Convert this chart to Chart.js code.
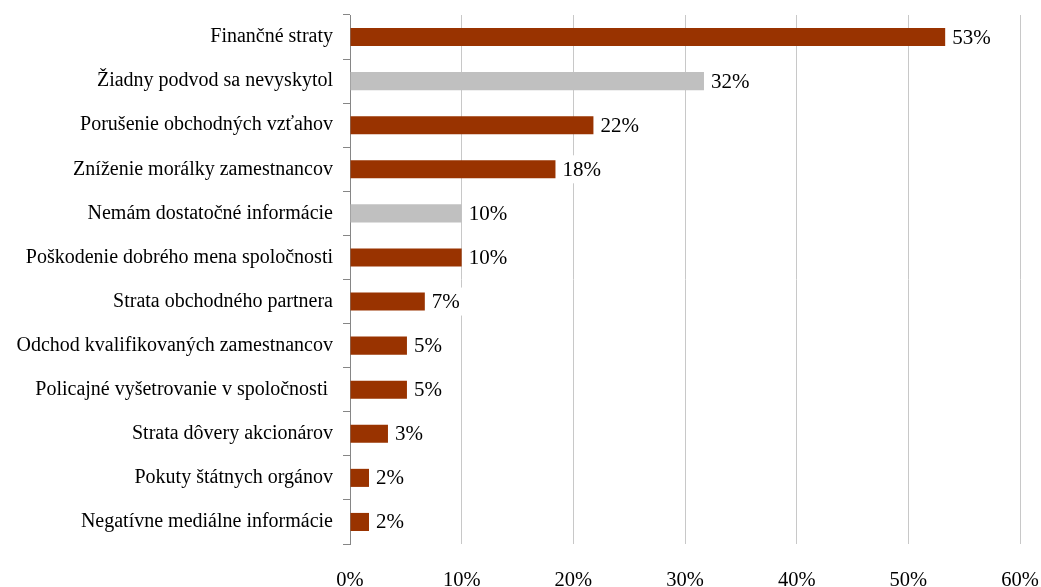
<!DOCTYPE html>
<html>
<head>
<meta charset="utf-8">
<script src="https://cdn.jsdelivr.net/npm/chart.js@4"></script>
<style>
  html, body { margin: 0; padding: 0; background: #fff; }
  #wrap { width: 1041px; height: 587px; }
</style>
</head>
<body>
<div id="wrap"><canvas id="myChart" width="1041" height="587"></canvas></div>
<script>
// kategórie a hodnoty (v %)
const categories = [
    'Finančné straty',
    'Žiadny podvod sa nevyskytol',
    'Porušenie obchodných vzťahov',
    'Zníženie morálky zamestnancov',
    'Nemám dostatočné informácie',
    'Poškodenie dobrého mena spoločnosti',
    'Strata obchodného partnera',
    'Odchod kvalifikovaných zamestnancov',
    'Policajné vyšetrovanie v spoločnosti ',
    'Strata dôvery akcionárov',
    'Pokuty štátnych orgánov',
    'Negatívne mediálne informácie'
];
const values = [53.3, 31.7, 21.8, 18.4, 10.0, 10.0, 6.7, 5.1, 5.1, 3.4, 1.7, 1.7];
const valueLabels = ['53%', '32%', '22%', '18%', '10%', '10%', '7%', '5%', '5%', '3%', '2%', '2%'];
const neutralFlags = [false, true, false, false, true, false, false, false, false, false, false, false];
const xTicks = [0, 10, 20, 30, 40, 50, 60];

const BROWN = '#993300';
const GRAY = '#c0c0c0';
const FONT = "'Liberation Serif', 'Times New Roman', serif";

// popisky hodnôt za stĺpcami s bielym pozadím
const valueLabelPlugin = {
    id: 'valueLabels',
    afterDatasetsDraw(chart) {
        const ctx = chart.ctx;
        const meta = chart.getDatasetMeta(0);
        ctx.save();
        ctx.font = '21px ' + FONT;
        ctx.textBaseline = 'middle';
        ctx.textAlign = 'left';
        meta.data.forEach((bar, i) => {
            const text = valueLabels[i];
            const w = ctx.measureText(text).width;
            const x = bar.x + 7;
            ctx.fillStyle = '#fff';
            ctx.fillRect(bar.x + 1, bar.y - 14, w + 10, 28);
            ctx.fillStyle = '#000';
            ctx.fillText(text, x, bar.y + 1);
        });
        ctx.restore();
    }
};

new Chart(document.getElementById('myChart'), {
    type: 'bar',
    data: {
        labels: categories,
        datasets: [{
            data: values,
            backgroundColor: neutralFlags.map(n => n ? GRAY : BROWN),
            borderWidth: 0,
            barPercentage: 0.41,
            categoryPercentage: 1
        }]
    },
    options: {
        indexAxis: 'y',
        responsive: false,
        animation: false,
        layout: { padding: { top: 15, right: 21, left: 0, bottom: 0 } },
        plugins: {
            legend: { display: false },
            tooltip: { enabled: false }
        },
        scales: {
            x: {
                min: 0,
                max: 60,
                afterBuildTicks: scale => { scale.ticks = xTicks.map(v => ({ value: v })); },
                afterFit: scale => {
                    scale.height = 43;
                    scale.paddingLeft = 0;
                    scale.paddingRight = 0;
                },
                grid: { color: '#c8c8c8', lineWidth: 1, drawTicks: false },
                border: { display: false },
                ticks: {
                    padding: 24,
                    color: '#000',
                    font: { family: FONT, size: 20.5 },
                    callback: v => v + '%'
                }
            },
            y: {
                afterFit: scale => {
                    scale.width = 350;
                    scale.paddingTop = 0;
                    scale.paddingBottom = 0;
                },
                grid: {
                    offset: true,
                    drawOnChartArea: false,
                    drawTicks: true,
                    tickLength: 7,
                    color: '#868686'
                },
                border: { display: true, color: '#868686', width: 1 },
                ticks: {
                    padding: 10,
                    color: '#000',
                    font: { family: FONT, size: 20 }
                }
            }
        }
    },
    plugins: [valueLabelPlugin]
});
</script>
</body>
</html>
